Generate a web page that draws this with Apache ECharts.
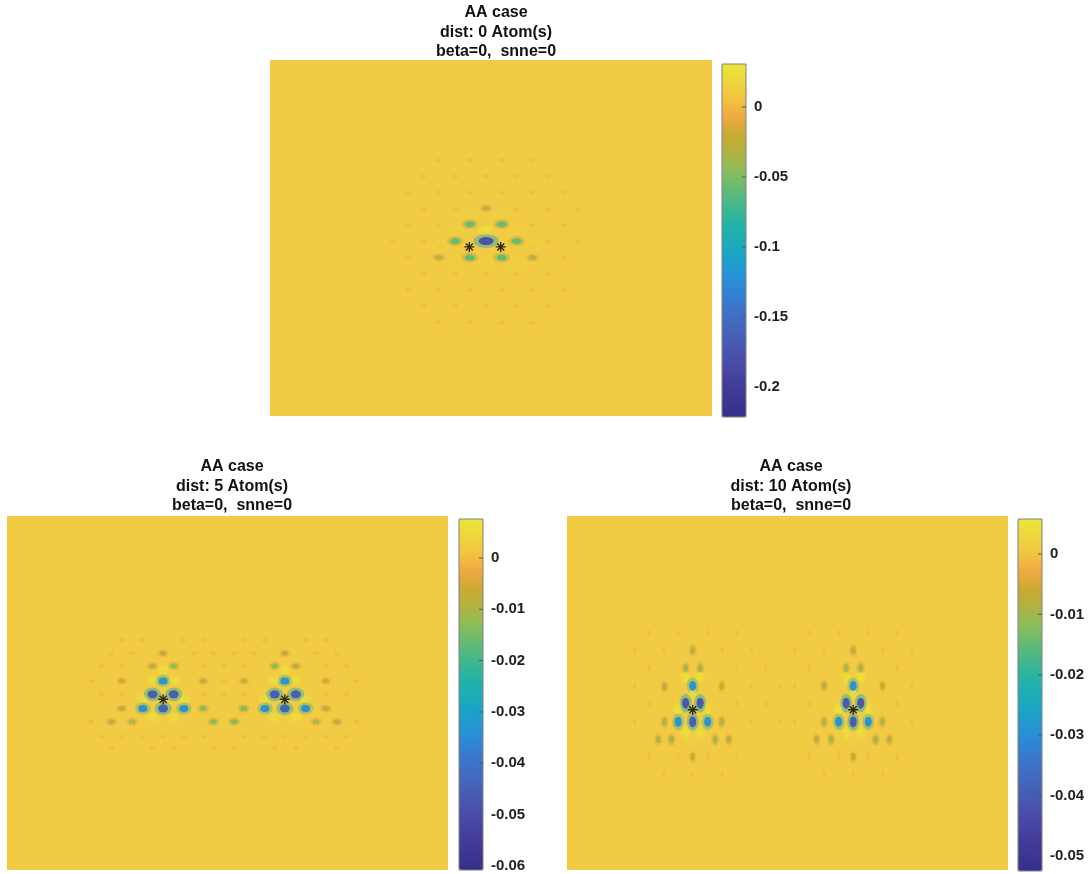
<!DOCTYPE html>
<html>
<head>
<meta charset="utf-8">
<script src="https://cdn.jsdelivr.net/npm/echarts@6/dist/echarts.min.js"></script>
<style>
  html, body { margin: 0; padding: 0; background: #fff; }
  #chart { width: 1091px; height: 874px; }
</style>
</head>
<body>
<div id="chart"></div>
<script>
// panel titles
const titles = [
  'AA case\ndist: 0 Atom(s)\nbeta=0,  snne=0',
  'AA case\ndist: 5 Atom(s)\nbeta=0,  snne=0',
  'AA case\ndist: 10 Atom(s)\nbeta=0,  snne=0'
]

// colour limits of each colorbar, and its tick labels
const topRange = [-0.2214, 0.0307]
const leftRange = [-0.0608, 0.0076]
const rightRange = [-0.0525, 0.0058]
const topTicks = [0, -0.05, -0.1, -0.15, -0.2]
const leftTicks = [0, -0.01, -0.02, -0.03, -0.04, -0.05, -0.06]
const rightTicks = [0, -0.01, -0.02, -0.03, -0.04, -0.05]

// level of the faint ripple dots in each map
const topFaintLevel = -0.007
const leftFaintLevel = -0.003
const rightFaintLevel = -0.003

// blobs [x, y, value]  (x 0..100, y 0..80 from the top of each map)
const topBlobs = [
  [48.9, 38.2, 0.024],
  [45.2, 34.4, 0.012], [52.4, 34.4, 0.012], [41.9, 38.2, 0.01], [55.8, 38.2, 0.01],
  [38.5, 42.0, 0.008], [59.4, 42.0, 0.008], [41.9, 45.6, 0.01], [55.8, 45.6, 0.01], [48.9, 45.6, 0.012],
  [48.9, 33.3, -0.028], [38.2, 44.4, -0.03], [59.4, 44.4, -0.03],
  [45.2, 36.9, -0.06], [52.4, 36.9, -0.06], [41.9, 40.7, -0.058], [55.8, 40.7, -0.058],
  [45.2, 44.4, -0.062], [52.4, 44.4, -0.062],
  [48.9, 40.7, -0.18]
]
const topFaint = [
  [38.1, 22.5], [45.2, 22.5], [52.4, 22.5], [59.2, 22.5],
  [34.7, 26.1], [41.9, 26.1], [48.9, 26.1], [55.8, 26.1], [63.0, 26.1],
  [31.3, 29.8], [38.1, 29.8], [45.2, 29.8], [52.4, 29.8], [59.2, 29.8], [66.4, 29.8],
  [34.7, 33.6], [41.9, 33.6], [55.8, 33.6], [63.0, 33.6], [69.7, 33.6],
  [31.3, 37.1], [38.1, 37.1], [59.2, 37.1], [66.4, 37.1],
  [27.9, 40.8], [34.7, 40.8], [63.0, 40.8], [69.7, 40.8],
  [31.3, 44.3], [66.4, 44.3],
  [34.7, 48.1], [41.9, 48.1], [48.9, 48.1], [55.8, 48.1], [63.0, 48.1],
  [31.3, 51.7], [38.1, 51.7], [45.2, 51.7], [52.4, 51.7], [59.2, 51.7], [66.4, 51.7],
  [34.7, 55.3], [41.9, 55.3], [48.9, 55.3], [55.8, 55.3], [63.0, 55.3],
  [38.1, 59.0], [45.2, 59.0], [52.4, 59.0], [59.2, 59.0]
]
const topStars = [[45.1, 42.0], [52.2, 42.0]]

const leftBlobs = [
  [33.0, 37.1, 0.005], [37.8, 37.1, 0.005], [30.8, 41.4, 0.005], [40.1, 41.4, 0.005],
  [33.0, 45.5, 0.005], [37.8, 45.5, 0.005], [35.4, 34.8, 0.005],
  [60.6, 37.1, 0.005], [65.4, 37.1, 0.005], [58.4, 41.4, 0.005], [67.7, 41.4, 0.005],
  [60.6, 45.5, 0.005], [65.4, 45.5, 0.005], [63.0, 34.8, 0.005],
  [35.4, 31.0, -0.008], [33.0, 33.9, -0.01], [37.8, 33.9, -0.013], [44.5, 37.3, -0.008],
  [26.0, 37.3, -0.006], [26.0, 43.5, -0.009], [44.5, 43.5, -0.014], [53.7, 43.5, -0.014],
  [72.3, 43.5, -0.009], [23.7, 46.5, -0.009], [28.4, 46.5, -0.01], [46.8, 46.5, -0.014],
  [51.5, 46.5, -0.014], [70.1, 46.5, -0.01], [74.8, 46.5, -0.009],
  [63.0, 31.0, -0.008], [60.7, 33.9, -0.013], [65.5, 33.9, -0.01], [53.7, 37.3, -0.007],
  [72.3, 37.3, -0.006],
  [35.4, 37.3, -0.034], [30.8, 43.5, -0.035], [40.1, 43.5, -0.035],
  [63.0, 37.3, -0.034], [58.5, 43.5, -0.035], [67.7, 43.5, -0.035],
  [33.0, 40.3, -0.047], [37.8, 40.3, -0.047], [35.4, 43.5, -0.046],
  [60.7, 40.3, -0.047], [65.5, 40.3, -0.047], [63.0, 43.5, -0.046]
]
const leftFaint = [
  [26.0, 28.0], [30.7, 28.0], [40.0, 28.0], [44.6, 28.0], [53.7, 28.0], [58.4, 28.0], [67.7, 28.0], [72.3, 28.0],
  [23.7, 31.0], [28.4, 31.0], [42.3, 31.0], [46.8, 31.0], [51.5, 31.0], [56.1, 31.0], [70.1, 31.0], [74.8, 31.0],
  [21.4, 33.9], [26.0, 33.9], [44.6, 33.9], [49.2, 33.9], [53.7, 33.9], [72.3, 33.9], [77.0, 33.9],
  [19.1, 37.3], [49.2, 37.3], [79.3, 37.3],
  [21.4, 40.3], [26.0, 40.3], [44.6, 40.3], [49.2, 40.3], [53.7, 40.3], [72.3, 40.3], [77.0, 40.3],
  [19.1, 46.5], [79.3, 46.5],
  [21.4, 49.9], [26.0, 49.9], [30.7, 49.9], [35.4, 49.9], [40.0, 49.9], [44.6, 49.9],
  [53.7, 49.9], [58.4, 49.9], [63.0, 49.9], [67.7, 49.9], [72.3, 49.9], [77.0, 49.9],
  [23.7, 52.5], [33.0, 52.5], [37.8, 52.5], [47.0, 52.5], [51.5, 52.5], [60.7, 52.5], [65.5, 52.5], [74.8, 52.5]
]
const leftStars = [[35.4, 41.4], [63.0, 41.4]]

const rightBlobs = [
  [25.2, 43.8, 0.004], [31.9, 43.8, 0.004], [28.5, 39.8, 0.004], [26.9, 49.0, 0.004],
  [30.2, 49.0, 0.004], [26.9, 36.3, 0.004], [30.2, 36.3, 0.004],
  [61.6, 43.8, 0.004], [68.3, 43.8, 0.004], [64.9, 39.8, 0.004], [63.3, 49.0, 0.004],
  [66.6, 49.0, 0.004], [63.3, 36.3, 0.004], [66.6, 36.3, 0.004],
  [28.5, 30.4, -0.009], [26.9, 34.4, -0.01], [30.2, 34.4, -0.01], [22.1, 38.6, -0.008],
  [35.1, 38.4, -0.006], [35.1, 46.5, -0.009], [22.1, 46.5, -0.009], [20.7, 50.5, -0.008],
  [23.7, 50.5, -0.01], [33.6, 50.5, -0.01], [36.7, 50.5, -0.008], [28.5, 54.4, -0.006],
  [64.9, 30.4, -0.009], [63.3, 34.4, -0.01], [66.6, 34.4, -0.01], [58.3, 38.4, -0.008],
  [71.5, 38.4, -0.006], [58.3, 46.5, -0.009], [71.5, 46.5, -0.009], [56.6, 50.5, -0.008],
  [59.9, 50.5, -0.01], [70.0, 50.5, -0.01], [73.1, 50.5, -0.008], [64.9, 54.4, -0.006],
  [28.5, 38.4, -0.03], [25.2, 46.5, -0.03], [31.9, 46.5, -0.03],
  [64.9, 38.4, -0.03], [61.6, 46.5, -0.03], [68.3, 46.5, -0.03],
  [26.9, 42.3, -0.042], [30.2, 42.3, -0.042], [28.5, 46.5, -0.041],
  [63.3, 42.3, -0.042], [66.6, 42.3, -0.042], [64.9, 46.5, -0.041]
]
const rightFaint = [
  [18.7, 26.5], [25.2, 26.5], [31.9, 26.5], [38.5, 26.5], [55.0, 26.5], [61.6, 26.5], [68.3, 26.5], [74.9, 26.5],
  [15.3, 30.4], [21.9, 30.4], [35.2, 30.4], [41.8, 30.4], [51.6, 30.4], [58.3, 30.4], [71.6, 30.4], [78.2, 30.4],
  [18.7, 34.4], [38.5, 34.4], [45.1, 34.4], [55.0, 34.4], [74.9, 34.4],
  [15.3, 38.4], [41.8, 38.4], [48.4, 38.4], [51.6, 38.4], [78.2, 38.4],
  [18.7, 42.3], [38.5, 42.3], [45.1, 42.3], [55.0, 42.3], [74.9, 42.3],
  [15.3, 46.5], [41.8, 46.5], [48.4, 46.5], [51.6, 46.5], [78.2, 46.5],
  [18.7, 54.4], [25.2, 54.4], [31.9, 54.4], [38.5, 54.4], [55.0, 54.4], [61.6, 54.4], [68.3, 54.4], [74.9, 54.4],
  [21.9, 58.3], [28.5, 58.3], [35.2, 58.3], [58.3, 58.3], [64.9, 58.3], [71.6, 58.3]
]
const rightStars = [[28.5, 43.8], [64.9, 43.8]]

// MATLAB parula, as it looks in the picture (low -> high)
const parula = ['#352f88', '#3d3793', '#453f9c', '#4a4aa8', '#4858b0', '#4465bc', '#3e72c8',
  '#3382d2', '#2593d6', '#1ba2c9', '#1cadb6', '#26b3a3', '#45b78c', '#66bb72', '#8dbd5a',
  '#b3b242', '#caaa32', '#eea943', '#f2c33f', '#eed63c', '#ebe63a']

const panels = [
  { title: titles[0], titleX: 491, titleY: -2, blobs: topBlobs, faint: topFaint, faintLevel: topFaintLevel,
    stars: topStars, range: topRange, ticks: topTicks,
    map: { left: 270, top: 60, width: 442, height: 356 },
    bar: { left: 722, top: 64, width: 24, height: 353 },
    big: -0.15, mid: -0.045, sizes: { big: [15, 8], mid: [10, 6], small: [8, 5], pos: [10, 6], faint: [6, 4] } },
  { title: titles[1], titleX: 227, titleY: 452, blobs: leftBlobs, faint: leftFaint, faintLevel: leftFaintLevel,
    stars: leftStars, range: leftRange, ticks: leftTicks,
    map: { left: 7, top: 516, width: 441, height: 354 },
    bar: { left: 459, top: 519, width: 24, height: 351 },
    big: -0.042, mid: -0.025, sizes: { big: [10, 8], mid: [9, 7], small: [7, 5], pos: [8, 6], faint: [6, 4] } },
  { title: titles[2], titleX: 786, titleY: 452, blobs: rightBlobs, faint: rightFaint, faintLevel: rightFaintLevel,
    stars: rightStars, range: rightRange, ticks: rightTicks,
    map: { left: 567, top: 516, width: 441, height: 354 },
    bar: { left: 1018, top: 519, width: 24, height: 352 },
    big: -0.038, mid: -0.025, sizes: { big: [7, 11], mid: [7, 10], small: [5, 8], pos: [6, 9], faint: [3, 7] } }
]

const font = 'Liberation Sans, Arial, sans-serif'
// asterisk marker like MATLAB '*'
const starPath = 'path://M5,0L5,10M0,5L10,5M1.5,1.5L8.5,8.5M1.5,8.5L8.5,1.5'

const option = {
  backgroundColor: '#fff',
  animation: false,
  title: [], grid: [], xAxis: [], yAxis: [], series: [], visualMap: []
}

panels.forEach((p, i) => {
  const sizeOf = (v) => {
    if (v > 0) return p.sizes.pos
    if (v <= p.big) return p.sizes.big
    if (v <= p.mid) return p.sizes.mid
    return p.sizes.small
  }
  option.title.push({
    text: p.title, left: p.titleX, top: p.titleY, textAlign: 'center',
    textStyle: { fontFamily: font, fontSize: 16, fontWeight: 'bold', color: '#111', lineHeight: 19.5 }
  })
  // map area
  option.grid.push({ ...p.map, show: true, backgroundColor: '#f2cb44', borderWidth: 0 })
  option.xAxis.push({ type: 'value', gridIndex: i * 2, min: 0, max: 100, show: false })
  option.yAxis.push({ type: 'value', gridIndex: i * 2, min: 0, max: 80, inverse: true, show: false })
  // colorbar frame + labels
  option.grid.push({ ...p.bar, show: true, z: 10, borderColor: '#808080', borderWidth: 1, backgroundColor: 'transparent' })
  option.xAxis.push({ type: 'value', gridIndex: i * 2 + 1, min: 0, max: 1, show: false })
  option.yAxis.push({
    type: 'value', gridIndex: i * 2 + 1, position: 'right', min: p.range[0], max: p.range[1], z: 10,
    axisLine: { show: false }, splitLine: { show: false }, axisTick: { show: false },
    axisLabel: { customValues: p.ticks, margin: 8, color: '#222', fontFamily: font, fontSize: 15, fontWeight: 'bold',
      formatter: (v) => String(Math.round(v * 1000) / 1000) }
  })

  const base = option.series.length
  option.series.push({
    type: 'scatter', xAxisIndex: i * 2, yAxisIndex: i * 2, silent: true,
    data: p.faint.map(d => [d[0], d[1], p.faintLevel]),
    symbol: 'circle', symbolSize: p.sizes.faint, itemStyle: { opacity: 0.4 }
  })
  option.series.push({
    type: 'scatter', xAxisIndex: i * 2, yAxisIndex: i * 2, silent: true,
    data: p.blobs, symbol: 'circle',
    symbolSize: (d) => sizeOf(d[2]).map(s => s * 1.7),
    itemStyle: { opacity: 0.45 }
  })
  option.series.push({
    type: 'scatter', xAxisIndex: i * 2, yAxisIndex: i * 2, silent: true,
    data: p.blobs, symbol: 'circle',
    symbolSize: (d) => sizeOf(d[2]),
    itemStyle: { opacity: 0.95 }
  })
  option.series.push({
    type: 'scatter', xAxisIndex: i * 2, yAxisIndex: i * 2, silent: true, z: 5,
    data: p.stars, symbol: starPath, symbolSize: 10,
    itemStyle: { color: '#000', borderColor: '#000', borderWidth: 1.4 }
  })
  // colorbar tick marks, inside the right edge of the bar
  option.series.push({
    type: 'scatter', xAxisIndex: i * 2 + 1, yAxisIndex: i * 2 + 1, silent: true, z: 20,
    data: p.ticks.map(t => [1, t]), symbol: 'rect', symbolSize: [4, 1.2], symbolOffset: [-2, 0],
    itemStyle: { color: '#555' }
  })

  // colorbar + colouring of the cores and faint dots
  option.visualMap.push({
    type: 'continuous', seriesIndex: [base, base + 2], dimension: 2,
    min: p.range[0], max: p.range[1], calculable: false, hoverLink: false,
    orient: 'vertical', left: p.bar.left, top: p.bar.top, padding: 0,
    itemWidth: p.bar.width, itemHeight: p.bar.height, text: null,
    inRange: { color: parula }
  })
  // halos: same colormap stretched, so a rim shows the lighter shade of its core
  option.visualMap.push({
    type: 'continuous', seriesIndex: [base + 1], dimension: 2, show: false,
    min: p.range[0] * 1.7, max: p.range[1],
    inRange: { color: parula }
  })
})

const chart = echarts.init(document.getElementById('chart'))
chart.setOption(option)
</script>
</body>
</html>
